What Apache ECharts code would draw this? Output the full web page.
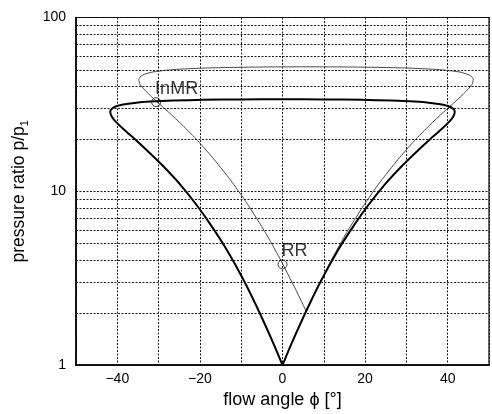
<!DOCTYPE html>
<html>
<head>
<meta charset="utf-8">
<script src="https://cdn.jsdelivr.net/npm/echarts@6/dist/echarts.min.js"></script>
<style>
html,body{margin:0;padding:0;background:#fff;}
#chart{width:492px;height:414px;}
</style>
</head>
<body>
<div id="chart"></div>
<script>
// Incident shock polar (thick): flow angle [deg], pressure ratio
const thickPhi = [0,-2.0,-6.0,-9.4,-13.5,-17.3,-20.8,-24.9,-28.8,-32.4,-35.6,-38.4,-40.5,-41.2,-41.6,-41.7,-41.3,-40.4,-38.6,-35.9,-32.0,-26.4,-19.1,-10.1,0,
  10.1,19.1,26.4,32.0,35.9,38.6,40.4,41.3,41.7,41.6,41.2,40.5,38.4,35.6,32.4,28.8,24.9,20.8,17.3,13.5,9.4,6.0,2.0,0];
const thickP = [1,1.30,2.11,3.08,4.61,6.37,8.34,11.03,13.89,16.84,19.80,22.66,25.35,26.6,27.78,28.87,29.87,30.78,31.57,32.26,32.83,33.27,33.59,33.79,33.85,
  33.79,33.59,33.27,32.83,32.26,31.57,30.78,29.87,28.87,27.78,26.6,25.35,22.66,19.80,16.84,13.89,11.03,8.34,6.37,4.61,3.08,2.11,1.30,1];
// Reflected shock polar (thin)
const thinPhi = [5.7,3.2,-0.7,-4.15,-8.3,-12.1,-16.5,-20.5,-24.25,-27.6,-30.6,-32.9,-34.5,-34.8,-34.0,-31.6,-26.6,-18.2,-5.65,5.7,
  17.05,29.6,38.0,43.0,45.4,46.2,45.9,44.3,42.0,39.0,35.65,31.9,27.9,23.5,19.7,15.55,12.1,8.2,5.7];
const thinP = [2.05,2.72,4.13,5.79,8.32,11.2,15.19,19.51,24.03,28.58,33.07,37.33,41.25,44.03,46.49,48.52,50.12,51.25,51.89,52.03,
  51.89,51.25,50.12,48.52,46.49,44.03,41.25,37.33,33.07,28.58,24.03,19.51,15.19,11.2,8.32,5.79,4.13,2.72,2.05];
// Marked solutions
const pointNames = ['InMR','RR'];
const pointPhi = [-30.6, 0];
const pointP = [32.6, 3.8];
// Horizontal minor grid values (log axis)
const yMinorGrid = [2,3,4,5,6,7,8,9,20,30,40,50,60,70,80,90];
const xLabeled = [-40,-20,0,20,40];

const FONT = '"Liberation Sans", Arial, Helvetica, sans-serif';
const gridStyle = {color:'#1a1a1a', width:1, type:[2,1.5]};

const chart = echarts.init(document.getElementById('chart'), null, {renderer:'canvas'});
chart.setOption({
  animation:false,
  backgroundColor:'#fff',
  grid:{left:76, top:17.5, right:-8.5, bottom:42, show:true, borderColor:'#000', borderWidth:1.2, backgroundColor:'transparent'},
  xAxis:{
    type:'value', min:-50, max:50, interval:10,
    axisLine:{show:true, onZero:false, lineStyle:{color:'#000', width:1.5}},
    axisTick:{show:false},
    splitLine:{show:true, lineStyle:gridStyle},
    axisLabel:{color:'#000', fontSize:14, fontFamily:FONT, margin:7,
      formatter:function(v){ return xLabeled.indexOf(v) >= 0 ? (v<0 ? '\u2212'+Math.abs(v) : String(v)) : ''; }},
    name:'flow angle \u03D5 [\u00B0]', nameLocation:'middle', nameGap:21,
    nameTextStyle:{color:'#000', fontSize:18, fontFamily:FONT}
  },
  yAxis:{
    type:'log', logBase:10, min:1, max:100,
    axisLine:{show:true, onZero:false, lineStyle:{color:'#000', width:1.5}},
    axisTick:{show:false},
    splitLine:{show:true, lineStyle:gridStyle},
    axisLabel:{color:'#000', fontSize:14, fontFamily:FONT, margin:10},
    name:'{a|pressure ratio p/p}{s|1}', nameLocation:'middle', nameGap:46, nameRotate:90,
    nameTextStyle:{color:'#000', fontSize:17.5, fontFamily:FONT,
      rich:{a:{fontSize:17.5, fontFamily:FONT, color:'#000', lineHeight:22, verticalAlign:'middle'},
            s:{fontSize:11, fontFamily:FONT, color:'#000', lineHeight:10, verticalAlign:'bottom'}}}
  },
  series:[
    {type:'line', silent:true, symbol:'none', data:[], z:1,
     markLine:{silent:true, symbol:'none', label:{show:false}, lineStyle:gridStyle, animation:false,
       data: yMinorGrid.map(v=>({yAxis:v}))}},
    {type:'line', symbol:'none', smooth:0.2, z:3,
     lineStyle:{color:'#4a4a4a', width:1},
     data: thinPhi.map((x,i)=>[x, thinP[i]])},
    {type:'line', symbol:'none', smooth:0.2, z:4,
     lineStyle:{color:'#000', width:2},
     data: thickPhi.map((x,i)=>[x, thickP[i]])},
    {type:'scatter', symbol:'circle', symbolSize:9, z:5,
     itemStyle:{color:'rgba(255,255,255,0)', borderColor:'#111', borderWidth:1},
     label:{show:true, position:'inside', align:'left', verticalAlign:'bottom',
       fontSize:18, fontFamily:FONT, color:'#000', offset:[-1,-4],
       formatter:function(p){ return pointNames[p.dataIndex]; }},
     data: pointPhi.map((x,i)=>[x, pointP[i]])}
  ]
});
</script>
</body>
</html>
